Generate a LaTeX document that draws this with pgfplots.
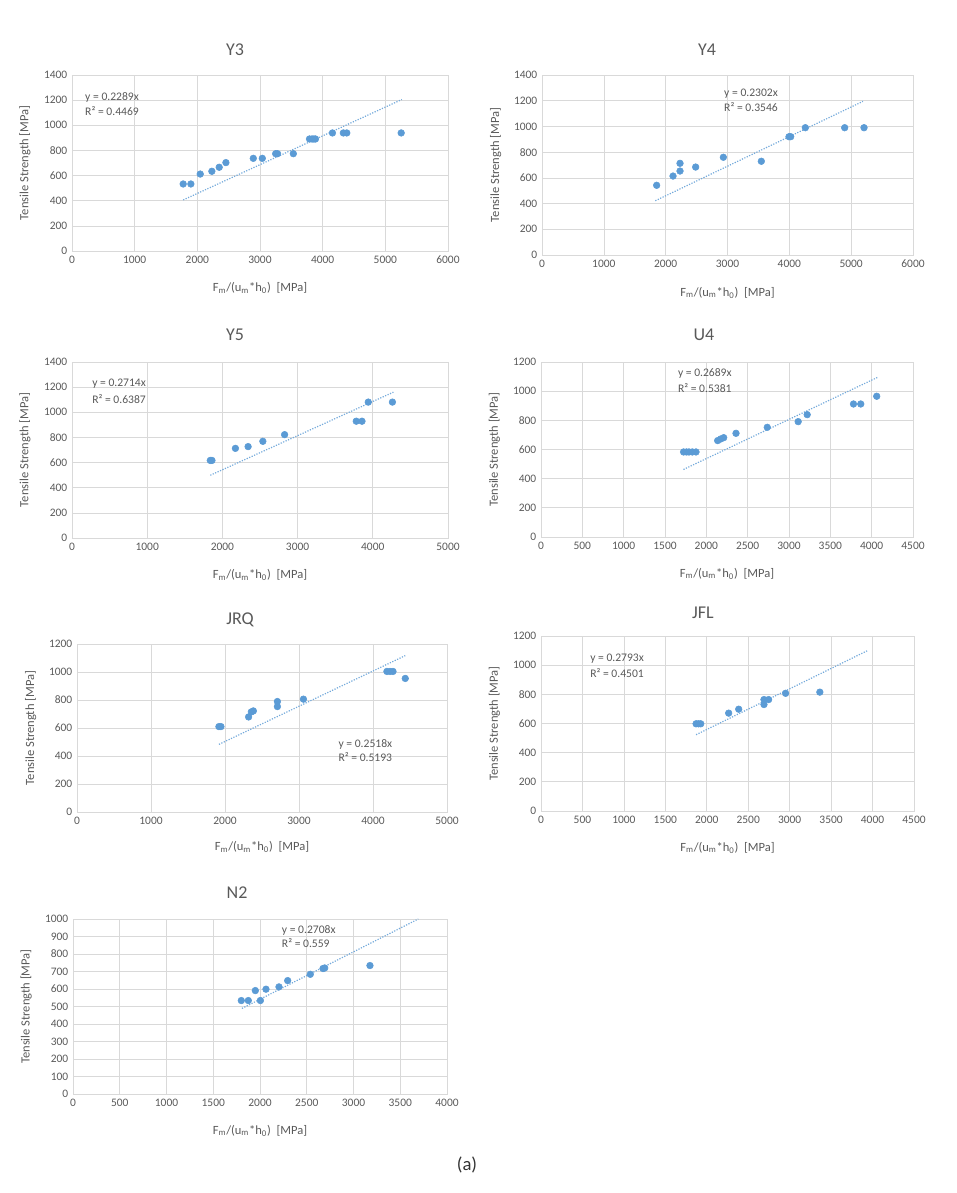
\documentclass[border=0pt]{standalone}
\usepackage{pgfplots}
\pgfplotsset{compat=1.18}
\usepackage{fontspec}
\setmainfont{Carlito}
\definecolor{xblue}{HTML}{5B9BD5}
\definecolor{xgrid}{HTML}{D9D9D9}
\definecolor{xtext}{HTML}{595959}
\tikzset{eq/.style={font=\fontsize{8.7}{10}\selectfont, text=xtext, anchor=west, inner sep=0pt}}
\pgfplotsset{
  excel/.style={
    scale only axis, anchor=south west,
    axis lines=box, axis line style={draw=xgrid},
    grid=major, major grid style={draw=xgrid, line width=0.5pt},
    major tick length=0pt,
    tick label style={font=\fontsize{8.6}{9.5}\selectfont, text=xtext},
    /pgf/number format/assume math mode=true,
    /pgf/number format/1000 sep={},
    xlabel={F\textsubscript{m}/(u\textsubscript{m}*h\textsubscript{0})\ \ [MPa]},
    ylabel={Tensile Strength [MPa]},
    label style={font=\fontsize{9.4}{11}\selectfont, text=xtext},
    xlabel style={at={(axis description cs:0.5,-0.21)}, anchor=center},
    ylabel style={at={(axis description cs:-0.125,0.5)}, anchor=center},
    xmin=0, ymin=0, clip=false,
  },
  pts/.style={only marks, mark=*, mark size=2.5pt, color=xblue, mark options={draw=xblue, fill=xblue}},
  trend/.style={no marks, color=xblue!85, line width=0.9pt, dash pattern=on 0.9pt off 1.1pt},
}
\begin{document}
\begin{tikzpicture}
\path (0,0) rectangle (717.75pt,894.75pt);
% titles
\begin{scope}[every node/.style={font=\fontsize{13.5}{15}\selectfont, text=xtext}]
\node at (176.25pt,857.25pt) {Y3};
\node at (530.25pt,857.25pt) {Y4};
\node at (176.25pt,643.5pt) {Y5};
\node at (528pt,643.5pt) {U4};
\node at (180pt,429.75pt) {JRQ};
\node at (527.25pt,435pt) {JFL};
\node at (177.75pt,225pt) {N2};
\end{scope}
\node[font=\fontsize{14}{16}\selectfont, text=black!80] at (350.25pt,21pt) {(a)};

% Y3
\begin{axis}[excel, at={(54pt,706.5pt)}, width=282pt, height=132pt,
  xmax=6000, ymax=1400, xtick={0,1000,...,6000}, ytick={0,200,...,1400}]
\addplot[trend] coordinates {(1774,406) (5264,1205)};
\addplot[pts] coordinates {
(1774,533) (1897,533) (2046,612) (2232,634) (2349,666) (2456,703)
(2893,737) (3037,737) (3250,774) (3280,774) (3532,774)
(3790,891) (3830,891) (3860,891) (3885,891)
(4156,939) (4330,939) (4385,939) (5253,939)};
\node[eq] at (axis cs:207,1225) {y = 0.2289x};
\node[eq] at (axis cs:207,1114) {R² = 0.4469};
\end{axis}

% Y4
\begin{axis}[excel, at={(406.5pt,703.5pt)}, width=278.25pt, height=135pt,
  xmax=6000, ymax=1400, xtick={0,1000,...,6000}, ytick={0,200,...,1400}]
\addplot[trend] coordinates {(1833,422) (5191,1195)};
\addplot[pts] coordinates {
(1854,542) (2119,614) (2232,713) (2232,653) (2485,684) (2933,760)
(3547,729) (3995,920) (4022,920) (4259,990) (4895,990) (5208,990)};
\node[eq] at (axis cs:2943,1258) {y = 0.2302x};
\node[eq] at (axis cs:2943,1153) {R² = 0.3546};
\end{axis}

% Y5
\begin{axis}[excel, at={(54pt,491.25pt)}, width=282pt, height=132pt,
  xmax=5000, ymax=1400, xtick={0,1000,...,5000}, ytick={0,200,...,1400}]
\addplot[trend] coordinates {(1839,499) (4274,1160)};
\addplot[pts] coordinates {
(1839,617) (1861,617) (2173,713) (2342,727) (2538,769) (2827,822)
(3780,929) (3856,929) (3940,1081) (4261,1081)};
\node[eq] at (axis cs:266,1231) {y = 0.2714x};
\node[eq] at (axis cs:266,1103) {R² = 0.6387};
\end{axis}

% U4
\begin{axis}[excel, at={(405.75pt,492pt)}, width=279pt, height=131.25pt,
  xmax=4500, ymax=1200, xtick={0,500,...,4500}, ytick={0,200,...,1200}]
\addplot[trend] coordinates {(1723,463) (4069,1094)};
\addplot[pts] coordinates {
(1725,583) (1760,583) (1790,583) (1830,583) (1875,583)
(2137,661) (2174,672) (2210,681) (2359,711) (2737,752)
(3111,791) (3220,839) (3780,912) (3868,912) (4061,965)};
\node[eq] at (axis cs:1654,1122) {y = 0.2689x};
\node[eq] at (axis cs:1654,1024) {R² = 0.5381};
\end{axis}

% JRQ
\begin{axis}[excel, at={(57.75pt,285.75pt)}, width=277.5pt, height=126pt,
  xmax=5000, ymax=1200, xtick={0,1000,...,5000}, ytick={0,200,...,1200}]
\addplot[trend] coordinates {(1918,483) (4436,1117)};
\addplot[pts] coordinates {
(1918,610) (1945,610) (2319,679) (2356,715) (2383,722)
(2708,789) (2708,753) (3060,806)
(4188,1004) (4230,1004) (4270,1004) (4436,954)};
\node[eq] at (axis cs:3531,484) {y = 0.2518x};
\node[eq] at (axis cs:3531,391) {R² = 0.5193};
\end{axis}

% JFL
\begin{axis}[excel, at={(405.75pt,286.5pt)}, width=279.75pt, height=131.25pt,
  xmax=4500, ymax=1200, xtick={0,500,...,4500}, ytick={0,200,...,1200}]
\addplot[trend] coordinates {(1871,523) (3940,1100)};
\addplot[pts] coordinates {
(1871,598) (1900,598) (1927,598) (2264,671) (2385,698)
(2690,730) (2690,764) (2746,764) (2951,807) (3364,815)};
\node[eq] at (axis cs:591,1047) {y = 0.2793x};
\node[eq] at (axis cs:591,948) {R² = 0.4501};
\end{axis}

% N2
\begin{axis}[excel, at={(54.75pt,74.25pt)}, width=280.5pt, height=131.25pt,
  xmax=4000, ymax=1000, xtick={0,500,...,4000}, ytick={0,100,...,1000}]
\addplot[trend] coordinates {(1807,489) (3693,1000)};
\addplot[pts] coordinates {
(1800,534) (1875,534) (1950,591) (2004,534) (2064,599) (2203,612)
(2296,648) (2538,684) (2674,717) (2692,720) (3176,734)};
\node[eq] at (axis cs:2232,937) {y = 0.2708x};
\node[eq] at (axis cs:2232,861) {R² = 0.559};
\end{axis}
\end{tikzpicture}
\end{document}
